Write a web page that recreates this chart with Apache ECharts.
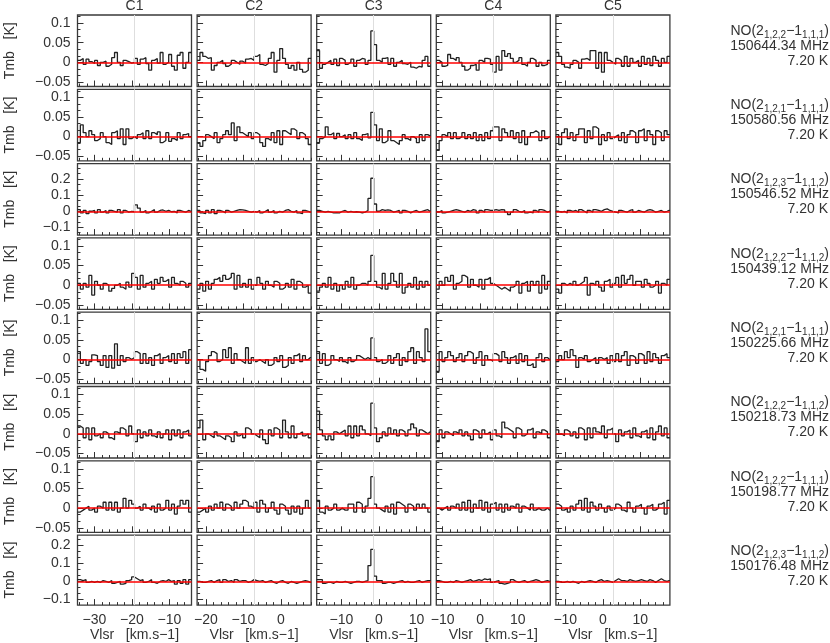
<!DOCTYPE html>
<html>
<head>
<meta charset="utf-8">
<script src="https://cdn.jsdelivr.net/npm/echarts@6/dist/echarts.min.js"></script>
<style>
  html, body { margin: 0; background: #fff; }
  #chart { width: 830px; height: 643px; }
</style>
</head>
<body>
<div id="chart"></div>
<script>
const columns = ["C1", "C2", "C3", "C4", "C5"]
// systemic velocity of each column (gray line), km/s
const vCenter = [-19.3, -7.15, -1.4, 3.5, 2.7]
const halfSpan = 15.2
const chanWidth = 0.76
const xTickLabels = [[-30, -20, -10], [-20, -10, 0], [-10, 0, 10], [-10, 0, 10], [-10, 0, 10]]

const lineUpper = ["1,2,2", "1,2,1", "1,2,3", "1,2,2", "1,2,1", "1,2,2", "1,2,2", "1,2,3"]
const lineLower = ["1,1,1", "1,1,1", "1,1,2", "1,1,2", "1,1,1", "1,1,2", "1,1,1", "1,1,2"]
const lineFreqs = ["150644.34", "150580.56", "150546.52", "150439.12", "150225.66", "150218.73", "150198.77", "150176.48"]
const lineEup = ["7.20", "7.20", "7.20", "7.20", "7.20", "7.20", "7.20", "7.20"]

const yRanges = [[-0.0615, 0.1205], [-0.0615, 0.1205], [-0.148, 0.296], [-0.0615, 0.1205],
                 [-0.0615, 0.1205], [-0.0615, 0.1205], [-0.0615, 0.1205], [-0.131, 0.257]]
const yTickSmall = [-0.05, 0, 0.05, 0.1]
const yTickLarge = [-0.1, 0, 0.1, 0.2]
const yTickLabels = [yTickSmall, yTickSmall, yTickLarge, yTickSmall, yTickSmall, yTickSmall, yTickSmall, yTickLarge]

// Tmb in mK, 40 channels per spectrum, one sub-array per column C1..C5
const spec150644 = [
  [5,10,-5,8,2,-3,5,-8,0,3,-10,-5,12,25,0,-8,5,2,-2,0,10,-5,8,12,-3,-20,5,10,-2,25,-5,0,20,-10,-20,18,25,-15,0,25],
  [5,25,15,10,12,-20,-8,0,5,-3,-10,-5,5,0,-5,3,-2,8,10,5,15,20,-5,-8,-3,10,25,-25,5,35,10,-5,-15,-8,-20,0,-18,-25,-20,10],
  [30,-15,-5,0,5,-5,8,-8,10,5,-5,0,8,-10,5,10,8,-5,5,80,45,5,0,10,12,-5,10,-10,0,5,-3,-5,0,-12,-15,-10,-12,5,15,-10],
  [5,0,-10,-8,20,10,5,12,0,-10,-20,-15,-8,-5,-20,5,0,10,8,-5,-25,15,-20,30,15,22,10,0,5,12,-5,-10,0,10,5,-10,0,-8,-5,5],
  [25,15,-5,-12,-15,-5,5,0,-15,8,10,5,30,30,-15,25,-25,25,5,0,-5,10,5,-10,15,-10,10,0,5,-10,15,-5,10,-8,15,5,-10,10,0,15]
]
const spec150580 = [
  [-15,30,10,0,15,5,-10,-5,10,0,-15,-20,10,15,-5,20,-20,20,-5,0,-5,5,10,-5,15,-5,10,5,12,-15,-10,10,-12,-5,-10,10,-5,5,8,0],
  [-15,-25,-10,5,0,-5,10,-15,-5,5,15,5,35,-10,25,10,5,0,10,-5,10,5,-15,-25,-5,-10,10,-15,15,-20,15,10,5,20,15,-5,10,5,-5,-20],
  [-15,-5,0,25,5,10,-5,8,0,5,-5,5,-5,10,-5,-10,5,8,-3,62,30,-10,20,-15,-10,15,-10,-15,-20,-10,5,-5,-10,0,-5,-15,5,-10,5,2],
  [-35,-10,5,0,10,-5,10,-5,0,10,-5,5,-5,10,-10,5,-10,10,-5,15,25,25,-10,20,10,0,15,-5,10,-15,15,-20,0,10,15,10,-10,15,-5,0],
  [5,-20,10,20,-5,10,-10,5,20,20,-15,15,-5,25,20,-20,5,-10,10,-5,0,5,-10,10,-15,5,15,10,-15,15,20,-10,15,5,-20,15,10,-10,15,5]
]
const spec150546 = [
  [10,-10,5,-15,0,5,-10,10,-5,5,-10,5,0,-5,10,-10,5,-5,0,-3,40,20,-5,5,-10,0,10,-5,5,8,0,5,-3,0,-10,5,0,-5,5,0],
  [5,-10,-15,5,-10,10,-15,5,0,-10,5,-5,0,5,10,8,5,0,-5,0,-5,5,-10,0,10,-5,5,-10,0,-5,5,10,0,-5,5,-10,-15,5,0,-5],
  [5,0,-5,0,-5,-10,-8,-10,0,5,-5,0,-5,-3,-5,-10,-5,5,80,205,45,0,10,5,8,5,-5,0,5,-10,5,0,-10,0,5,-5,0,5,10,0],
  [-5,5,-10,-5,0,5,10,5,0,-5,5,0,10,5,-10,5,-5,10,5,5,10,5,10,8,-5,-20,-5,10,0,-5,5,-10,-5,-10,5,-5,10,5,-5,0],
  [0,-5,0,-10,5,0,5,-5,10,0,-10,5,-5,10,5,0,10,15,5,0,-5,-10,5,0,-5,5,10,-5,5,0,-5,5,10,5,-5,0,5,-5,0,5]
]
const spec150439 = [
  [5,-10,5,-5,25,-25,10,0,-10,5,0,-15,-8,0,5,-5,-10,8,-5,30,20,-10,25,-5,5,10,-10,15,5,20,10,15,-5,20,5,0,10,5,-5,5],
  [-10,5,-15,10,-10,5,15,20,10,25,15,20,30,-10,25,-5,5,-5,15,-10,0,20,5,-10,10,0,-5,10,5,-10,-5,5,-5,15,-10,10,5,-5,0,-20],
  [-15,-5,5,-5,20,-10,5,-15,0,-10,10,-5,20,-10,0,5,5,0,10,76,10,-5,-10,30,-10,5,30,10,-5,30,-20,-5,5,-5,20,-10,10,-5,10,0],
  [-10,10,0,20,10,25,-10,5,10,25,20,-5,15,0,-5,15,-10,15,20,5,0,-5,-10,-5,-10,-15,-5,0,10,-20,5,10,-15,10,0,10,-20,25,-10,10],
  [-10,-20,5,0,5,0,10,0,5,10,20,-25,5,0,10,-5,-15,10,15,-5,5,20,-5,25,5,15,25,0,10,10,-5,15,5,-5,0,10,-20,5,0,15]
]
const spec150225 = [
  [20,-10,0,-15,-5,12,10,-5,-15,10,-20,10,-22,40,-15,10,-5,5,0,5,20,15,-10,15,-10,5,-15,10,15,-10,5,10,-5,15,-10,15,5,20,-10,25],
  [0,-25,-30,-5,10,20,15,-5,0,25,5,30,-10,15,0,-5,-10,30,-10,5,-5,0,-5,-10,0,-15,-10,5,-5,10,-20,-15,5,-10,10,15,-5,10,0,5],
  [20,-10,15,-15,-10,10,0,-5,5,-5,-10,5,-5,0,10,5,0,5,0,55,5,-5,0,-10,-5,10,-10,5,15,-15,5,-5,20,30,-10,20,5,-5,78,20],
  [-30,20,-5,5,20,10,-5,5,15,-5,10,20,15,-10,5,20,-15,10,0,-5,15,10,-5,20,5,-10,5,10,-10,15,-5,10,-15,-10,-20,5,15,-5,5,0],
  [-5,10,0,20,5,25,10,-20,5,0,10,-5,0,5,-10,5,0,5,-10,10,-5,15,-5,10,20,-15,10,5,-10,15,10,-10,20,-5,15,5,-10,10,15,5]
]
const spec150218 = [
  [20,15,-10,15,-15,15,-5,0,-10,5,0,-10,-15,5,0,15,10,-5,20,0,-20,10,-10,5,-5,10,-5,-10,5,-10,0,10,-15,10,-5,10,-10,5,10,-5],
  [15,35,-15,0,-5,-10,5,-5,-10,-15,-5,-10,-20,5,-5,0,-10,15,10,0,-5,-10,10,-15,-25,10,-5,15,10,-10,35,5,-10,20,-10,0,5,-5,0,-10],
  [58,10,-5,-15,-5,-15,5,0,5,10,-5,20,-10,20,-5,20,10,0,-5,78,15,-20,-10,5,-5,15,0,10,-5,10,5,-5,10,25,15,-5,10,5,0,5],
  [-20,10,-10,5,0,-5,5,0,10,-5,5,-5,-15,10,5,-10,10,0,5,-15,10,-5,-10,30,15,10,5,-10,15,10,-5,0,10,15,-10,5,0,10,5,-10],
  [10,0,-5,10,5,-5,5,-10,15,10,-15,15,-10,15,5,0,20,-10,10,15,0,-20,10,-5,5,10,-10,15,-5,-10,5,10,-10,15,-15,5,20,-5,15,-10]
]
const spec150198 = [
  [-10,-5,0,5,-5,0,-10,5,0,15,-5,15,-5,15,-10,0,25,0,20,10,0,5,-5,10,0,-5,5,-10,10,-5,0,20,-5,10,-15,5,20,10,20,-10],
  [-10,-5,0,-10,5,-5,10,0,15,-5,10,5,-5,15,0,10,20,15,5,0,15,-10,20,10,-10,0,15,-5,-15,10,5,-5,-15,5,-10,5,-15,0,20,0],
  [20,-10,-15,5,-5,0,10,-5,0,-5,-5,10,10,-10,15,10,-10,5,25,80,10,0,-5,-10,5,-10,10,-15,15,10,5,-10,10,5,-5,10,0,10,0,-10],
  [0,-5,0,5,-5,5,0,10,-5,15,-5,20,-10,10,0,20,-5,15,-10,10,15,-5,10,-10,10,-5,5,0,10,-10,5,0,-5,10,-5,0,-5,-5,0,-5],
  [10,5,-5,0,-10,5,-5,10,20,-5,25,-10,15,5,-5,10,0,-10,5,-5,0,10,5,-5,-10,15,0,-10,5,10,0,-15,5,10,-5,0,10,15,-15,20]
]
const spec150176 = [
  [10,5,10,-5,0,-5,0,-5,5,0,-5,5,-10,-5,0,-15,-10,5,10,25,15,5,10,-5,0,10,-5,-10,0,5,0,10,0,5,-15,5,-10,10,-15,10],
  [0,-5,-5,0,5,-5,5,10,-5,10,0,5,-5,10,0,5,5,-5,0,10,5,0,5,-5,0,5,-5,-10,0,5,-5,-10,0,-5,-10,-5,0,5,0,-5],
  [10,10,-10,-5,-5,-10,0,-5,-5,0,-5,-10,-5,0,0,-5,0,5,88,178,30,5,5,-10,-5,-5,-10,-5,0,5,-5,0,-5,-5,0,5,-5,0,5,5],
  [5,0,-5,-5,0,-5,5,0,-5,0,5,10,0,5,10,5,15,10,15,-5,0,5,-10,-15,-10,-5,10,0,-5,0,5,-5,0,5,10,5,-5,0,5,0],
  [0,-5,-5,0,-5,0,-5,-10,0,-5,0,5,0,-5,5,10,0,5,0,-5,5,15,5,5,0,10,5,0,5,10,5,0,10,5,-5,5,15,5,0,5]
]
const spectra = [spec150644, spec150580, spec150546, spec150439, spec150225, spec150218, spec150198, spec150176]

const FONT = "Liberation Sans"
const INK = "#333"
const gridLeft = 77.5, gridTop = 15, gridW = 114, gridH = 71.5, pitchX = 119.6, pitchY = 74.3

const minus = (v) => String(v).replace("-", "\u2212")

function ticksBetween(min, max, step) {
  const out = []
  for (let k = Math.ceil(min / step - 1e-9); k * step <= max + 1e-9; k++) {
    out.push(+(k * step).toFixed(6))
  }
  return out
}

const chart = echarts.init(document.getElementById("chart"), null, { renderer: "canvas" })

const grid = []
const xAxis = []
const yAxis = []
const series = []
const graphic = []

for (let r = 0; r < 8; r++) {
  const [ymin, ymax] = yRanges[r]
  const yMajor = yTickLabels[r][1] - yTickLabels[r][0]
  for (let c = 0; c < 5; c++) {
    const g = r * 5 + c
    const xmin = vCenter[c] - halfSpan
    const xmax = vCenter[c] + halfSpan
    grid.push({
      left: gridLeft + c * pitchX, top: gridTop + r * pitchY, width: gridW, height: gridH,
      show: true, borderColor: "#3a3a3a", borderWidth: 1.3, backgroundColor: "transparent"
    })
    const bottomRow = r === 7
    const tickStyle = { color: "#333", width: 1 }
    xAxis.push({
      gridIndex: g, type: "value", min: xmin, max: xmax, position: "bottom",
      axisLine: { show: false, onZero: false }, splitLine: { show: false },
      axisTick: { show: true, inside: true, length: 3, customValues: ticksBetween(xmin, xmax, 2), lineStyle: tickStyle },
      axisLabel: { show: bottomRow, customValues: xTickLabels[c], formatter: minus, fontFamily: FONT, fontSize: 14, color: INK, margin: 8 },
      name: bottomRow ? "Vlsr   [km.s\u22121]" : "", nameLocation: "middle", nameGap: 22,
      nameTextStyle: { fontFamily: FONT, fontSize: 14, color: INK }
    })
    xAxis.push({
      gridIndex: g, type: "value", min: xmin, max: xmax, position: "bottom",
      axisLine: { show: false, onZero: false }, splitLine: { show: false }, axisLabel: { show: false },
      axisTick: { show: true, inside: true, length: 6, customValues: xTickLabels[c], lineStyle: tickStyle }
    })
    yAxis.push({
      gridIndex: g, type: "value", min: ymin, max: ymax, position: "left",
      axisLine: { show: false, onZero: false }, splitLine: { show: false },
      axisTick: { show: true, inside: true, length: 3, customValues: ticksBetween(ymin, ymax, yMajor / 3), lineStyle: tickStyle },
      axisLabel: { show: c === 0, customValues: yTickLabels[r], formatter: minus, fontFamily: FONT, fontSize: 14, color: INK, margin: 7 },
      name: c === 0 ? "Tmb   [K]" : "", nameLocation: "middle", nameRotate: 90, nameGap: 60,
      nameTextStyle: { fontFamily: FONT, fontSize: 14, color: INK }
    })
    yAxis.push({
      gridIndex: g, type: "value", min: ymin, max: ymax, position: "left",
      axisLine: { show: false, onZero: false }, splitLine: { show: false }, axisLabel: { show: false },
      axisTick: { show: true, inside: true, length: 6, customValues: yTickLabels[r], lineStyle: tickStyle }
    })

    const vals = spectra[r][c]
    const pts = vals.map((mk, i) => [vCenter[c] + (i - 19.5) * chanWidth, mk / 1000])
    // carry the outer channels out to the panel edges
    pts.unshift([xmin, vals[0] / 1000])
    pts.push([xmax, vals[vals.length - 1] / 1000])
    series.push({
      type: "line", xAxisIndex: 2 * g, yAxisIndex: 2 * g, data: [], silent: true, z: 1,
      markLine: { silent: true, symbol: "none", animation: false, label: { show: false },
        lineStyle: { color: "#dedede", width: 1, type: "solid" }, data: [{ xAxis: vCenter[c] }] }
    })
    series.push({
      type: "line", step: "middle", xAxisIndex: 2 * g, yAxisIndex: 2 * g, data: pts,
      symbol: "none", silent: true, z: 2,
      lineStyle: { color: "#222", width: 1.3 },
      markLine: { silent: true, symbol: "none", animation: false, label: { show: false },
        lineStyle: { color: "#ff0000", width: 1.5, type: "solid" }, data: [{ yAxis: 0 }] }
    })
  }

  const yc = gridTop + r * pitchY
  graphic.push({
    type: "text", x: 829, y: yc + 16,
    style: {
      text: "{n|NO(2}{s|" + lineUpper[r] + "}{n|\u22121}{s|" + lineLower[r] + "}{n|)}",
      align: "right", verticalAlign: "middle",
      rich: {
        n: { fontFamily: FONT, fontSize: 14, fill: INK, lineHeight: 18, verticalAlign: "middle" },
        s: { fontFamily: FONT, fontSize: 10, fill: INK, lineHeight: 9, verticalAlign: "bottom" }
      }
    }
  })
  graphic.push({
    type: "text", x: 829, y: yc + 31,
    style: { text: lineFreqs[r] + " MHz", align: "right", verticalAlign: "middle", fontFamily: FONT, fontSize: 14, fill: INK }
  })
  graphic.push({
    type: "text", x: 828, y: yc + 46,
    style: { text: lineEup[r] + " K", align: "right", verticalAlign: "middle", fontFamily: FONT, fontSize: 14, fill: INK }
  })
}

columns.forEach((name, c) => {
  graphic.push({
    type: "text", x: gridLeft + c * pitchX + gridW / 2, y: 6,
    style: { text: name, align: "center", verticalAlign: "middle", fontFamily: FONT, fontSize: 14, fill: INK }
  })
})

chart.setOption({
  animation: false,
  backgroundColor: "#fff",
  grid: grid,
  xAxis: xAxis,
  yAxis: yAxis,
  series: series,
  graphic: graphic
})
</script>
</body>
</html>
